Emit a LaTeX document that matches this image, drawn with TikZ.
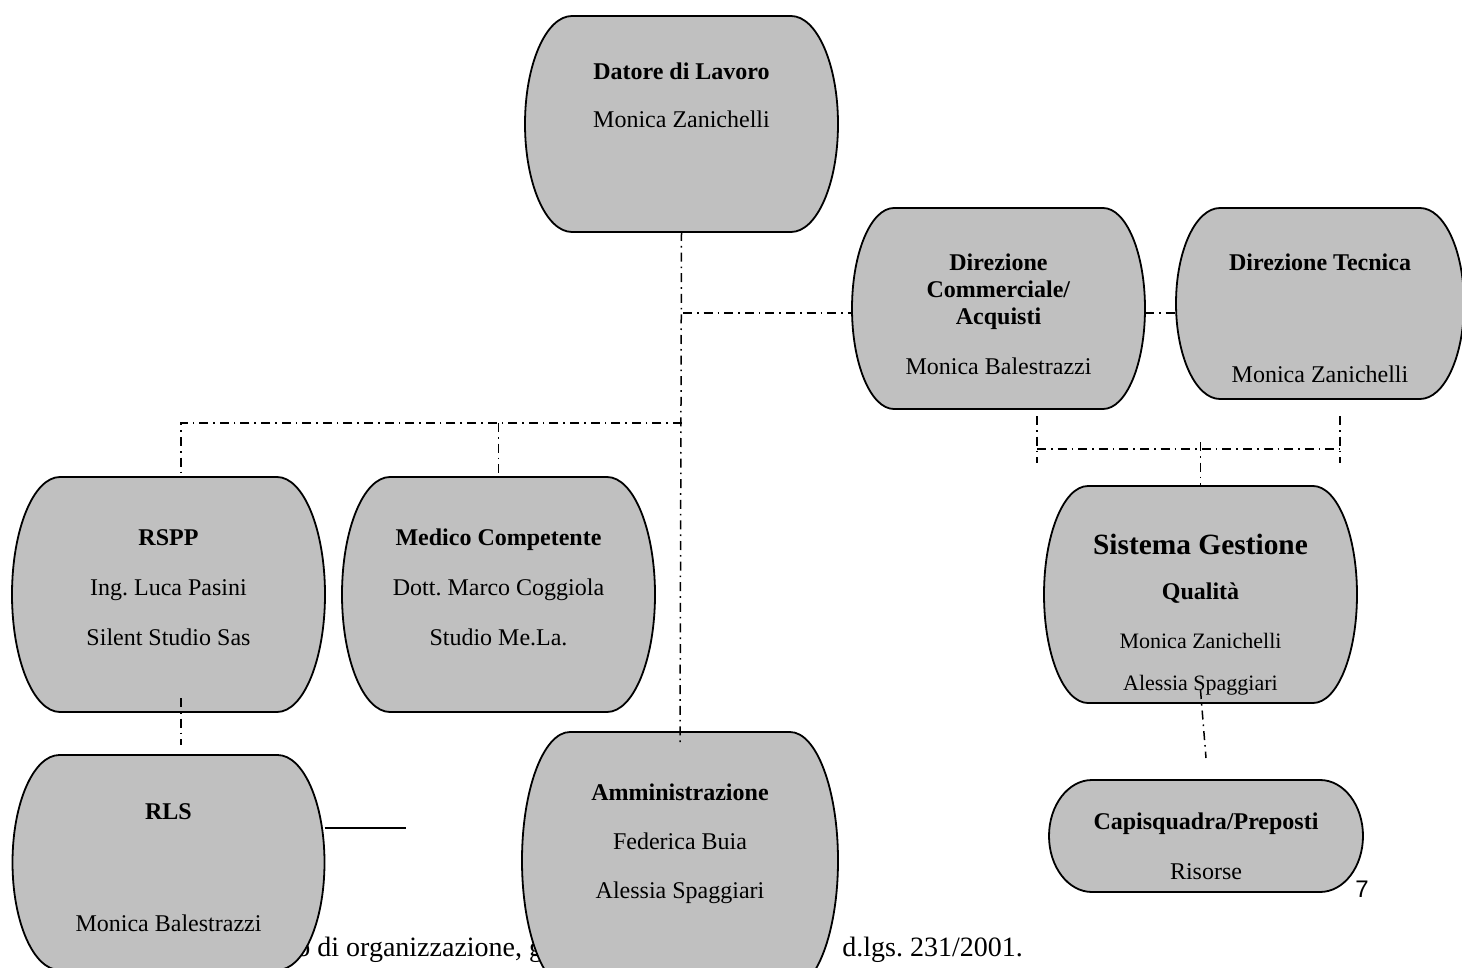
\documentclass[tikz,border=0pt]{standalone}
\usepackage{fontspec}
\setmainfont{Liberation Serif}
\setsansfont{Liberation Sans}
\usepackage{tikz}
\usetikzlibrary{positioning, calc, backgrounds}

\definecolor{boxgray}{RGB}{192,192,192}
\newcommand{\inbox}[3]{\parbox[c][#1][t]{130pt}{\centering\rule{0pt}{#2}#3}}

\tikzset{
  orgbox/.style={inner sep=0pt, outer sep=0pt},
  orgshape/.style={draw=black, fill=boxgray, line width=0.9pt},
  link/.style={draw=black, line width=0.75pt, dash pattern=on 4.5pt off 2.5pt on 0.8pt off 2.5pt},
  footer/.style={inner sep=0pt, anchor=base west, font=\fontsize{14}{16}\selectfont}
}

\begin{document}
\frenchspacing
\begin{tikzpicture}[x=0.5pt, y=-0.5pt]
        \useasboundingbox (0,0) rectangle (1462,968);

        \node[orgbox, minimum width=156.5pt, font=\fontsize{12}{24}\selectfont] (datore) at (681.5,124)
          {\inbox{108pt}{32pt}{\textbf{Datore di Lavoro}\\Monica Zanichelli}};
        \node[orgbox, minimum width=146.5pt, font=\fontsize{12}{13.5}\selectfont] (dircomm) at (998.5,308.5)
          {\inbox{100.5pt}{31pt}{\textbf{Direzione}\\\textbf{Commerciale/}\\\textbf{Acquisti}\\[11.5pt]Monica Balestrazzi}};
        \node[orgbox, minimum width=144pt, font=\fontsize{12}{24}\selectfont] (dirtec) at (1320,303.5)
          {\inbox{95.5pt}{31pt}{\textbf{Direzione Tecnica}\\[32pt]Monica Zanichelli}};
        \node[orgbox, minimum width=156.5pt, font=\fontsize{12}{25}\selectfont] (rspp) at (168.5,594.5)
          {\inbox{117.5pt}{34pt}{\textbf{RSPP}\\Ing. Luca Pasini\\Silent Studio Sas}};
        \node[orgbox, minimum width=156.5pt, font=\fontsize{12}{25}\selectfont] (medico) [right of=rspp, node distance=165pt]
          {\inbox{117.5pt}{34pt}{\textbf{Medico Competente}\\Dott. Marco Coggiola\\Studio Me.La.}};
        \node[orgbox, minimum width=156pt, font=\fontsize{12}{24}\selectfont] (rls) [below of=rspp, node distance=134pt]
          {\inbox{107.5pt}{32pt}{\textbf{RLS}\\[32pt]Monica Balestrazzi}};
        \node[orgbox, minimum width=158pt, font=\fontsize{12}{24.5}\selectfont] (ammin) at (680,860.5)
          {\inbox{128.5pt}{34pt}{\textbf{Amministrazione}\\Federica Buia\\Alessia Spaggiari}};
        \node[orgbox, minimum width=156.5pt, font=\fontsize{12}{21}\selectfont] (sgq) at (1200.5,594.5)
          {\inbox{108.5pt}{34pt}{{\fontsize{14.7}{17}\selectfont\textbf{Sistema Gestione}}\\[1.5pt]\textbf{Qualità}\\[3.5pt]%
           {\fontsize{11}{13}\selectfont Monica Zanichelli}\\{\fontsize{11}{13}\selectfont Alessia Spaggiari}}};
        \node[orgbox, minimum width=157pt, font=\fontsize{12}{25}\selectfont] (capi) at (1206,836)
          {\inbox{56pt}{24.5pt}{\textbf{Capisquadra/Preposti}\\Risorse}};

        \node[inner sep=0pt, anchor=base, font=\sffamily\fontsize{12}{14}\selectfont] (pageno) at (1362,897) {7};

        \begin{scope}[on background layer]
          \node[footer] (foot1) at (296,956) {o di organizzazione, g};
          \node[footer] (foot2) at (842,956) {d.lgs. 231/2001.};
          \foreach \bx/\rx in {datore/23.5pt, dircomm/21pt, dirtec/22pt, rspp/24pt, medico/24pt,
                               rls/23.5pt, ammin/24pt, sgq/22pt, capi/21.5pt}
            \path[orgshape] let \p1=(\bx.north east), \p2=(\bx.south west), \n1={(\y1-\y2)/2} in
              (\x2+\rx,\y1) -- (\x1-\rx,\y1) arc[start angle=90, end angle=-90, x radius=\rx, y radius=\n1]
              -- (\x2+\rx,\y2) arc[start angle=270, end angle=90, x radius=\rx, y radius=\n1] -- cycle;
        \end{scope}

        \coordinate (tj1) at (683,313);
        \coordinate (tj2) at (682,423);
        \coordinate (kl) at (181,423);
        \coordinate (bl) at (1037,449);
        \coordinate (br) at (1340,449);
        \coordinate (rlsline) at (406,828);

        \path[link] (datore.south) -- ($(ammin.north)+(0,10)$);
        \path[link] (tj1) -- (tj1 -| dircomm.west);
        \path[link] (tj1 -| dircomm.east) -- (tj1 -| dirtec.west);
        \path[link] (tj2) -- (kl) -- (kl |- rspp.north);
        \path[link] (tj2 -| medico.north) -- (medico.north);
        \path[link] ($(kl |- rspp.south)+(0,-14)$) -- ($(kl |- rls.north)+(0,-10)$);
        \path[link] ($(bl)+(0,-33)$) -- ($(bl)+(0,14)$);
        \path[link] ($(br)+(0,-33)$) -- ($(br)+(0,14)$);
        \path[link] (bl) -- (br);
        \path[link] ($(sgq.north |- bl)+(0,-7)$) -- (sgq.north);
        \path[link] ($(sgq.south)+(0,-13)$) -- ($(capi.north)+(0,-22)$);
        \draw[line width=1.2pt] (rlsline -| rls.east) -- (rlsline);
      \end{tikzpicture}
\end{document}
